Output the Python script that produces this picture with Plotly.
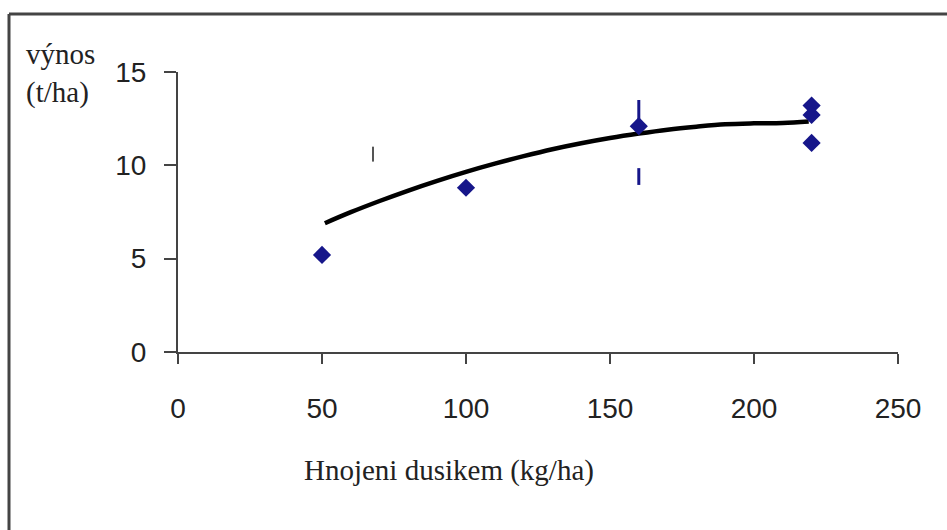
import plotly.graph_objects as go

# measured points
x_pts = [50, 100, 160, 220, 220, 220]
y_pts = [5.2, 8.8, 12.1, 13.2, 12.7, 11.2]

# trend curve
x_trend = [51, 60, 70, 80, 90, 100, 110, 120, 130, 140, 150, 160, 170, 180, 190, 200, 210, 219]
y_trend = [6.9, 7.49, 8.09, 8.65, 9.17, 9.65, 10.09, 10.49, 10.86, 11.18, 11.46, 11.70, 11.91, 12.07, 12.20, 12.25, 12.27, 12.35]

# stray vertical marks
mark_gray_x = [67.7, 67.7]
mark_gray_y = [10.2, 11.0]
mark_blue_x = [160, 160, None, 160, 160]
mark_blue_y = [12.3, 13.5, None, 8.95, 9.85]

x_ticks = [0, 50, 100, 150, 200, 250]
y_ticks = [0, 5, 10, 15]

NAVY = "#16168a"

fig = go.Figure()
fig.add_trace(go.Scatter(x=mark_gray_x, y=mark_gray_y, mode="lines",
                         line=dict(color="#555555", width=2), hoverinfo="skip"))
fig.add_trace(go.Scatter(x=mark_blue_x, y=mark_blue_y, mode="lines",
                         line=dict(color=NAVY, width=3), hoverinfo="skip"))
fig.add_trace(go.Scatter(x=x_trend, y=y_trend, mode="lines", line_shape="spline",
                         line=dict(color="black", width=4.5)))
fig.add_trace(go.Scatter(x=x_pts, y=y_pts, mode="markers",
                         marker=dict(symbol="diamond", size=14, color=NAVY)))

L, R, T, B = 178, 49, 72, 178
W, H = 947, 530
pw, ph = W - L - R, H - T - B

def px(xp):
    return (xp - L) / pw

def py(yp):
    return (H - B - yp) / ph

axis_font = dict(family="Liberation Sans, Arial, sans-serif", size=28, color="#222222")
title_font = dict(family="Liberation Serif, Times New Roman, serif", size=29, color="#222222")
fig.update_layout(
    width=W, height=H,
    margin=dict(l=L, r=R, t=T, b=B),
    paper_bgcolor="white", plot_bgcolor="white",
    showlegend=False,
    xaxis=dict(range=[0, 250], tickvals=x_ticks, showgrid=False, zeroline=False,
               showline=True, linecolor="#444444", linewidth=2,
               ticks="outside", ticklen=10, tickwidth=2, tickcolor="#444444",
               tickfont=axis_font, ticklabelstandoff=20),
    yaxis=dict(range=[0, 15], tickvals=y_ticks, showgrid=False, zeroline=False,
               showline=True, linecolor="#444444", linewidth=2,
               ticks="outside", ticklen=12, tickwidth=2, tickcolor="#444444",
               tickfont=axis_font, ticklabelstandoff=12),
    annotations=[
        dict(text="výnos<br>(t/ha)", xref="paper", yref="paper", x=px(24), y=py(36),
             xanchor="left", yanchor="top", align="left", showarrow=False,
             font=title_font),
        dict(text="Hnojeni dusikem (kg/ha)", xref="paper", yref="paper", x=px(449), y=py(470),
             xanchor="center", yanchor="middle", showarrow=False,
             font=title_font),
    ],
    shapes=[
        dict(type="line", xref="paper", yref="paper", x0=px(9), y0=py(14), x1=px(960), y1=py(14),
             line=dict(color="#444444", width=3)),
        dict(type="line", xref="paper", yref="paper", x0=px(9), y0=py(14), x1=px(9), y1=py(545),
             line=dict(color="#444444", width=3)),
    ],
)

fig.write_html("out.html")
